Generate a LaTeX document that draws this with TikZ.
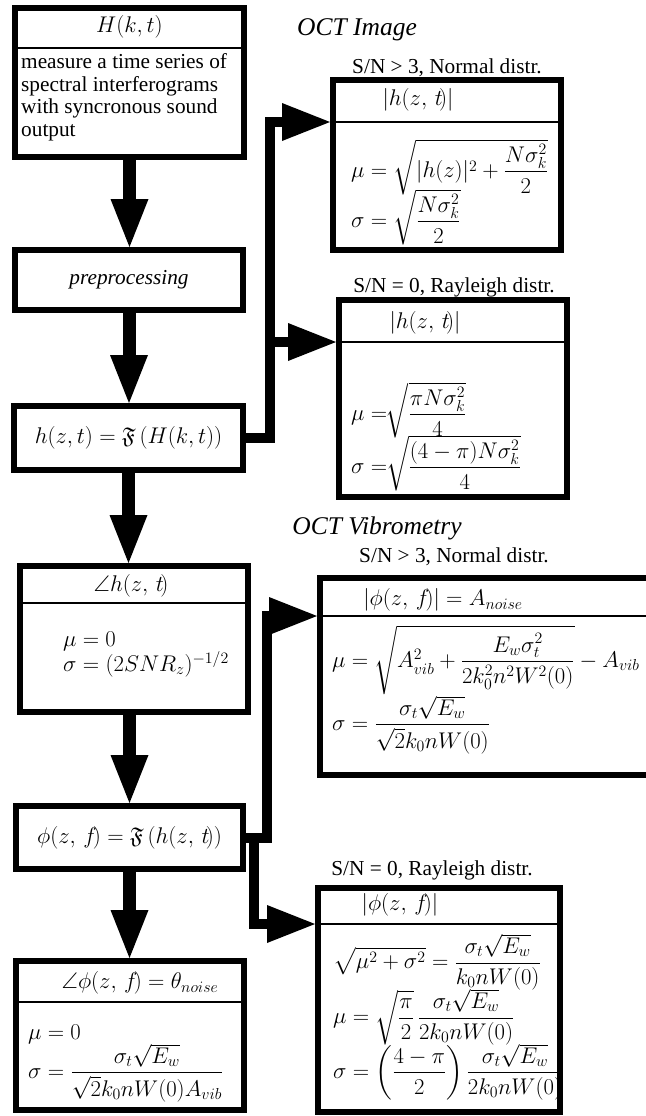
\RequirePackage{fix-cm}
\documentclass[tikz,border=0pt]{standalone}
\usepackage{amsmath,amssymb}
\usepackage[no-math]{fontspec}
\setmainfont{Liberation Serif}
\usetikzlibrary{arrows.meta}

\tikzset{>={Triangle[length=48pt,width=38pt,line width=0pt]}}

\begin{document}
\begin{tikzpicture}[x=1pt,y=-1pt]

	\tikzstyle{cell} = [rectangle, draw=black, line width=6pt, inner sep=0pt]
	\tikzstyle{divline} = [line width=1.6pt]
	\tikzstyle{flowarrow} = [->, line width=13pt]
	\tikzstyle{branch} = [->, line width=10pt, line join=miter]
	\tikzstyle{words} = [font=\fontsize{21.3}{22.5}\selectfont, inner sep=0pt]
	\tikzstyle{formula} = [font=\fontsize{22.7}{24}\selectfont, inner sep=0pt]
	\tikzstyle{heading} = [font=\fontsize{25.5}{27}\selectfont\itshape, inner sep=0pt]

	\useasboundingbox (0,0) rectangle (645,1116);

%------------------------------------------------------------
	\node[cell, minimum width=229pt, minimum height=149pt] (b1) at (129.5,82.5) {};
	\node[cell, minimum width=228pt, minimum height=60pt] (b2) at (129,280) {};
	\node[cell, minimum width=229pt, minimum height=64pt] (b3) at (128.5,438) {};
	\node[cell, minimum width=228pt, minimum height=146pt] (b4) at (134,639) {};
	\node[cell, minimum width=227pt, minimum height=63pt] (b5) at (129.5,837.5) {};
	\node[cell, minimum width=228pt, minimum height=149pt] (b6) at (130,1035.5) {};

%------------------------------------------------------------
	\node[cell, minimum width=228pt, minimum height=170pt] (b7) at (447,165) {};
	\node[cell, minimum width=228pt, minimum height=197pt] (b8) at (453,398.5) {};
	\node[cell, minimum width=347pt, minimum height=197pt] (b9) at (493.5,676.5) {};
	\node[cell, minimum width=242pt, minimum height=224pt] (b10) at (439,1000) {};

%------------------------------------------------------------
	\coordinate (d1) at ([yshift=-43pt]b1.north west);
	\coordinate (d4) at ([yshift=-40pt]b4.north west);
	\coordinate (d6) at ([yshift=-44pt]b6.north west);
	\coordinate (d7) at ([yshift=-45pt]b7.north west);
	\coordinate (d8) at ([yshift=-45pt]b8.north west);
	\coordinate (d9) at ([yshift=-41pt]b9.north west);
	\coordinate (d10) at ([yshift=-39pt]b10.north west);

	\draw[divline] (d1) -- (d1 -| b1.east);
	\draw[divline] (d4) -- (d4 -| b4.east);
	\draw[divline] (d6) -- (d6 -| b6.east);
	\draw[divline] (d7) -- (d7 -| b7.east);
	\draw[divline] (d8) -- (d8 -| b8.east);
	\draw[divline] (d9) -- (d9 -| b9.east);
	\draw[divline] (d10) -- (d10 -| b10.east);

%------------------------------------------------------------
	\node[formula] (t1) at (129.5,27) {$H(k,t)$};
	\node[words, anchor=north west, align=left] (m1) at (21,53.5)
		{measure a time series of\\spectral interferograms\\with syncronous sound\\output};
	\node[words] (t2) at (129,280) {\textit{preprocessing}};
	\node[formula] (t3) at (128.5,438) {$h(z,t) = \mathfrak{F}\left(H(k,t)\right)$};

	\node[formula] (t4) at (131,586) {$\angle h(z,\,t\!)$};
	\node[formula, anchor=west] (m4a) at (63,641) {$\mu = 0$};
	\node[formula, anchor=west] (m4b) at (63,664) {$\sigma = (2SNR_z)^{-1/2}$};

	\node[formula] (t5) at (129.5,837.5) {$\phi(z,\,f\!) = \mathfrak{F}\left(h(z,\,t\!)\right)$};

	\node[formula] (t6) at (140,983) {$\angle\phi(z,\,f\!) = \theta_{noise}$};
	\node[formula, anchor=west] (m6a) at (28,1034) {$\mu = 0$};
	\node[formula, anchor=west] (m6b) at (28,1073)
		{$\sigma = \dfrac{\sigma_t\sqrt{E_w}}{\sqrt{2}k_0nW(0)A_{vib}}$};

%------------------------------------------------------------
	\node[heading] (h1) at (357,30) {OCT Image};
	\node[words] (c7) at (447,68) {S/N > 3, Normal distr.};
	\node[formula] (t7) at (418,100) {$|h(z,\,t\!)|$};
	\node[formula, anchor=west] (m7a) at (351,167)
		{$\mu = \sqrt{\lvert h(z)\rvert^2 + \dfrac{N\sigma_k^2}{2}}$};
	\node[formula, anchor=west] (m7b) at (351,217)
		{$\sigma = \sqrt{\dfrac{N\sigma_k^2}{2}}$};

	\node[words] (c8) at (454,287) {S/N = 0, Rayleigh distr.};
	\node[formula] (t8) at (425,323) {$|h(z,\,t\!)|$};
	\node[formula, anchor=west] (m8a) at (351,410)
		{$\mu =\!\!\sqrt{\dfrac{\pi N\sigma_k^2}{4}}$};
	\node[formula, anchor=west] (m8b) at (351,463)
		{$\sigma =\!\!\sqrt{\dfrac{(4-\pi)N\sigma_k^2}{4}}$};

%------------------------------------------------------------
	\node[heading] (h2) at (377,528) {OCT Vibrometry};
	\node[words] (c9) at (454,557) {S/N > 3, Normal distr.};
	\node[formula] (t9) at (443,600) {$|\phi(z,\,f\!)| = A_{noise}$};
	\node[formula, anchor=west] (m9a) at (332,660)
		{$\mu = \sqrt{A_{vib}^2 + \dfrac{E_w\sigma_t^2}{2k_0^2n^2W^2(0)}} - A_{vib}$};
	\node[formula, anchor=west] (m9b) at (332,725)
		{$\sigma = \dfrac{\sigma_t\sqrt{E_w}}{\sqrt{2}k_0nW(0)}$};

	\node[words] (c10) at (432,870) {S/N = 0, Rayleigh distr.};
	\node[formula] (t10) at (400,905) {$|\phi(z,\,f\!)|$};
	\node[formula, anchor=west] (m10a) at (333,962)
		{$\sqrt{\mu^2+\sigma^2} = \dfrac{\sigma_t\sqrt{E_w}}{k_0nW(0)}$};
	\node[formula, anchor=west] (m10b) at (333,1017)
		{$\mu = \sqrt{\dfrac{\pi}{2}}\,\dfrac{\sigma_t\sqrt{E_w}}{2k_0nW(0)}$};
	\node[formula, anchor=west] (m10c) at (333,1072)
		{$\sigma = \left(\dfrac{4-\pi}{2}\right)\dfrac{\sigma_t\sqrt{E_w}}{2k_0nW(0)}$};

%------------------------------------------------------------
	\draw[flowarrow] (b1.south) -- (b1.south |- b2.north);
	\draw[flowarrow] (b2.south) -- (b2.south |- b3.north);
	\draw[flowarrow] (b3.south) -- (b3.south |- b4.north);
	\draw[flowarrow] (b5.north |- b4.south) -- (b5.north);
	\draw[flowarrow] (b5.south) -- (b5.south |- b6.north);

	\coordinate (k1) at (270,122);
	\coordinate (k2) at (267,616);
	\coordinate (k3) at (254,924);

	\draw[branch] (b3.east) -| (k1) -- (d7);
	\draw[branch] (k1 |- d8) -- (d8);
	\draw[branch] (b5.east) -| (k2) -- (d9);
	\draw[branch] (b5.east) -| (k3) -- (d10);

\end{tikzpicture}
\end{document}
